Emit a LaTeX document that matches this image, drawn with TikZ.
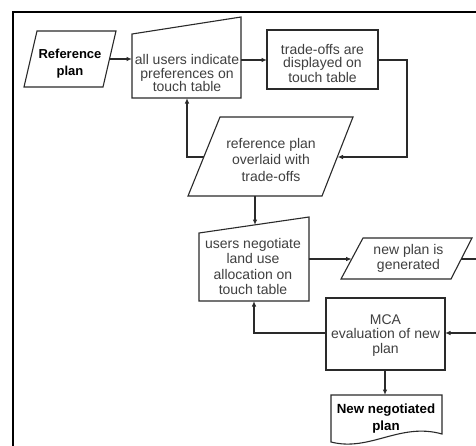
\documentclass[tikz,border=0pt]{standalone}
\usepackage{fontspec}
\setmainfont{Liberation Sans}
\usetikzlibrary{arrows.meta}
\definecolor{ink}{HTML}{2A2A2A}
\definecolor{txtc}{HTML}{404040}
\begin{document}
\begin{tikzpicture}[x=1pt,y=-1pt,
  shp/.style={draw=ink, line width=1.1pt, fill=white, line join=miter},
  con/.style={draw=ink, line width=1.1pt},
  arr/.style={con,-{Latex[length=5.5pt,width=4.5pt]}},
  txt/.style={align=center, text=txtc, inner sep=0pt},
  bld/.style={align=center, text=black, inner sep=0pt, font=\bfseries}]
\clip (0,0) rectangle (476,445);
\fill[white] (0,0) rectangle (476,445);
% frame
\draw[line width=2.5pt] (13,447) -- (13,12) -- (480,12);

% shapes
\draw[shp] (37,31) -- (116,31) -- (103,87) -- (24,87) -- cycle;
\draw[shp] (132,34) -- (241,17) -- (241,98) -- (132,98) -- cycle;
\draw[shp] (267,30) rectangle (378,89);
\draw[shp] (220,117) -- (353,117) -- (322,196) -- (188,196) -- cycle;
\draw[shp] (199,233) -- (309,217) -- (309,301) -- (199,301) -- cycle;
\draw[shp] (363,238) -- (472,238) -- (451,279) -- (341,279) -- cycle;
\draw[shp] (326,298) rectangle (445,370);
\draw[shp] (331,395) -- (442,395) -- (442,434) .. controls (400,422) and (370,452) .. (331,442) -- cycle;

% text nodes
\node[bld, font=\bfseries\fontsize{13}{17}\selectfont] (ref) at (70,63.5) {Reference\\plan};
\node[txt, font=\fontsize{14}{13.2}\selectfont] (pref) at (187,73) {all users indicate\\preferences on\\touch table};
\node[txt, font=\fontsize{14}{13}\selectfont] (trade) at (322.5,63.5) {trade-offs are\\displayed on\\touch table};
\node[txt, font=\fontsize{14}{16.5}\selectfont] (over) at (271,159.5) {reference plan\\overlaid with\\trade-offs};
\node[txt, font=\fontsize{14}{15.5}\selectfont] (neg) at (253,266.5) {users negotiate\\land use\\allocation on\\touch table};
\node[txt, font=\fontsize{14}{15}\selectfont] (newp) at (408.5,258.5) {new plan is\\generated};
\node[txt, font=\fontsize{14}{14.5}\selectfont] (mca) at (385.5,335.5) {MCA\\evaluation of new\\plan};
\node[bld, font=\bfseries\fontsize{13.3}{17}\selectfont] (final) at (386,418.5) {New negotiated\\plan};

% connection points
\coordinate (refR) at (110,59);
\coordinate (prefL) at (132,59);
\coordinate (prefR) at (241,60);
\coordinate (prefB) at (187,98);
\coordinate (tradeL) at (267,60);
\coordinate (tradeR) at (378,60);
\coordinate (overR) at (337.5,157);
\coordinate (overL) at (204,157);
\coordinate (overB) at (255,196);
\coordinate (negT) at (255,225);
\coordinate (negR) at (309,259);
\coordinate (negB) at (254,301);
\coordinate (newpL) at (351.7,259);
\coordinate (newpR) at (461,259);
\coordinate (mcaR) at (445,333);
\coordinate (mcaL) at (326,333);
\coordinate (mcaB) at (385,370);
\coordinate (finalT) at (385,395);
\coordinate (outR) at (482,300);

% connectors
\draw[arr] (refR) -- (prefL);
\draw[arr] (prefR) -- (tradeL);
\draw[arr] (tradeR) -- (407,60) -- (407,157) -- (overR);
\draw[arr] (overL) -- (187,157) -- (prefB);
\draw[arr] (overB) -- (negT);
\draw[arr] (negR) -- (newpL);
\draw[arr] (newpR) -- (outR |- newpR) -- (outR |- mcaR) -- (mcaR);
\draw[arr] (mcaL) -- (negB |- mcaL) -- (negB);
\draw[arr] (mcaB) -- (finalT);
\end{tikzpicture}
\end{document}
